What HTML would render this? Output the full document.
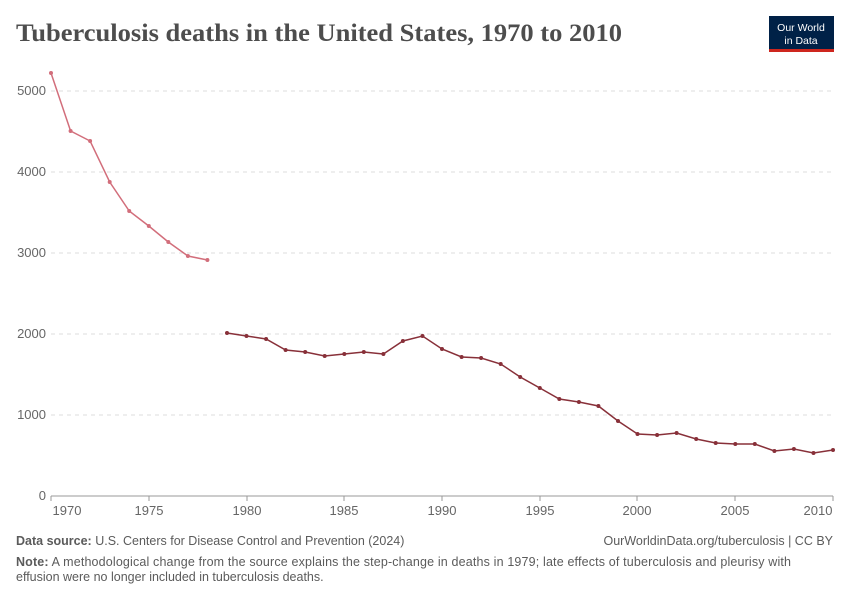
<!DOCTYPE html>
<html><head><meta charset="utf-8"><style>
body{margin:0;background:#fff;font-family:"Liberation Sans",sans-serif;}
</style></head><body>
<svg width="850" height="600" xmlns="http://www.w3.org/2000/svg">
<text x="16" y="41" font-family="Liberation Serif,serif" font-size="25.5" font-weight="bold" fill="#4d4d4d" textLength="606" lengthAdjust="spacingAndGlyphs">Tuberculosis deaths in the United States, 1970 to 2010</text>
<rect x="769" y="16" width="65" height="36" fill="#002147"/>
<rect x="769" y="49" width="65" height="3" fill="#ce261e"/>
<text x="801" y="31" font-size="10.5" fill="#fff" text-anchor="middle">Our World</text>
<text x="801" y="44" font-size="10.5" fill="#fff" text-anchor="middle">in Data</text>
<g stroke="#ddd" stroke-dasharray="4,4">
<line x1="51" x2="833" y1="415" y2="415"/><line x1="51" x2="833" y1="334" y2="334"/>
<line x1="51" x2="833" y1="253" y2="253"/><line x1="51" x2="833" y1="172" y2="172"/>
<line x1="51" x2="833" y1="91" y2="91"/>
</g>
<line x1="51" x2="833" y1="496" y2="496" stroke="#999"/>
<g font-size="13" fill="#666" text-anchor="end">
<text x="46" y="500">0</text><text x="46" y="419">1000</text><text x="46" y="338">2000</text>
<text x="46" y="257">3000</text><text x="46" y="176">4000</text><text x="46" y="95">5000</text>
</g>
<g font-size="13" fill="#666" text-anchor="middle">
<text x="67" y="515">1970</text><text x="149" y="515">1975</text><text x="247" y="515">1980</text>
<text x="344" y="515">1985</text><text x="442" y="515">1990</text><text x="540" y="515">1995</text>
<text x="637" y="515">2000</text><text x="735" y="515">2005</text><text x="818" y="515">2010</text>
</g>
<g stroke="#999">
<line x1="51" x2="51" y1="496" y2="501"/><line x1="149" x2="149" y1="496" y2="501"/><line x1="247" x2="247" y1="496" y2="501"/><line x1="344" x2="344" y1="496" y2="501"/><line x1="442" x2="442" y1="496" y2="501"/><line x1="540" x2="540" y1="496" y2="501"/><line x1="637" x2="637" y1="496" y2="501"/><line x1="735" x2="735" y1="496" y2="501"/><line x1="833" x2="833" y1="496" y2="501"/>
</g>
<polyline fill="none" stroke="#d26e7b" stroke-width="1.5" points="51,73 70.6,131 90.1,141 109.7,182 129.2,211 148.8,226 168.3,242 187.9,256 207.4,260"/>
<g fill="#d26e7b">
<circle cx="51" cy="73" r="2"/><circle cx="70.6" cy="131" r="2"/><circle cx="90.1" cy="141" r="2"/><circle cx="109.7" cy="182" r="2"/><circle cx="129.2" cy="211" r="2"/><circle cx="148.8" cy="226" r="2"/><circle cx="168.3" cy="242" r="2"/><circle cx="187.9" cy="256" r="2"/><circle cx="207.4" cy="260" r="2"/>
</g>
<polyline fill="none" stroke="#883039" stroke-width="1.5" points="227,333 246.5,336 266.1,339 285.6,350 305.2,352 324.7,356 344.3,354 363.8,352 383.4,354 402.9,341 422.5,336 442,349 461.6,357 481.1,358 500.7,364 520.2,377 539.8,388 559.3,399 578.9,402 598.4,406 618,421 637.5,434 657.1,435 676.6,433 696.2,439 715.7,443 735.3,444 754.8,444 774.4,451 793.9,449 813.5,453 833,450"/>
<g fill="#883039">
<circle cx="227" cy="333" r="2"/><circle cx="246.5" cy="336" r="2"/><circle cx="266.1" cy="339" r="2"/><circle cx="285.6" cy="350" r="2"/><circle cx="305.2" cy="352" r="2"/><circle cx="324.7" cy="356" r="2"/><circle cx="344.3" cy="354" r="2"/><circle cx="363.8" cy="352" r="2"/><circle cx="383.4" cy="354" r="2"/><circle cx="402.9" cy="341" r="2"/><circle cx="422.5" cy="336" r="2"/><circle cx="442" cy="349" r="2"/><circle cx="461.6" cy="357" r="2"/><circle cx="481.1" cy="358" r="2"/><circle cx="500.7" cy="364" r="2"/><circle cx="520.2" cy="377" r="2"/><circle cx="539.8" cy="388" r="2"/><circle cx="559.3" cy="399" r="2"/><circle cx="578.9" cy="402" r="2"/><circle cx="598.4" cy="406" r="2"/><circle cx="618" cy="421" r="2"/><circle cx="637.5" cy="434" r="2"/><circle cx="657.1" cy="435" r="2"/><circle cx="676.6" cy="433" r="2"/><circle cx="696.2" cy="439" r="2"/><circle cx="715.7" cy="443" r="2"/><circle cx="735.3" cy="444" r="2"/><circle cx="754.8" cy="444" r="2"/><circle cx="774.4" cy="451" r="2"/><circle cx="793.9" cy="449" r="2"/><circle cx="813.5" cy="453" r="2"/><circle cx="833" cy="450" r="2"/>
</g>
<g font-size="12.5" fill="#5b5b5b">
<text x="16" y="545"><tspan font-weight="bold">Data source:</tspan> U.S. Centers for Disease Control and Prevention (2024)</text>
<text x="833" y="545" text-anchor="end">OurWorldinData.org/tuberculosis | CC BY</text>
<text x="16" y="566" textLength="775" lengthAdjust="spacing"><tspan font-weight="bold">Note:</tspan> A methodological change from the source explains the step-change in deaths in 1979; late effects of tuberculosis and pleurisy with</text>
<text x="16" y="581">effusion were no longer included in tuberculosis deaths.</text>
</g>
</svg>
</body></html>
